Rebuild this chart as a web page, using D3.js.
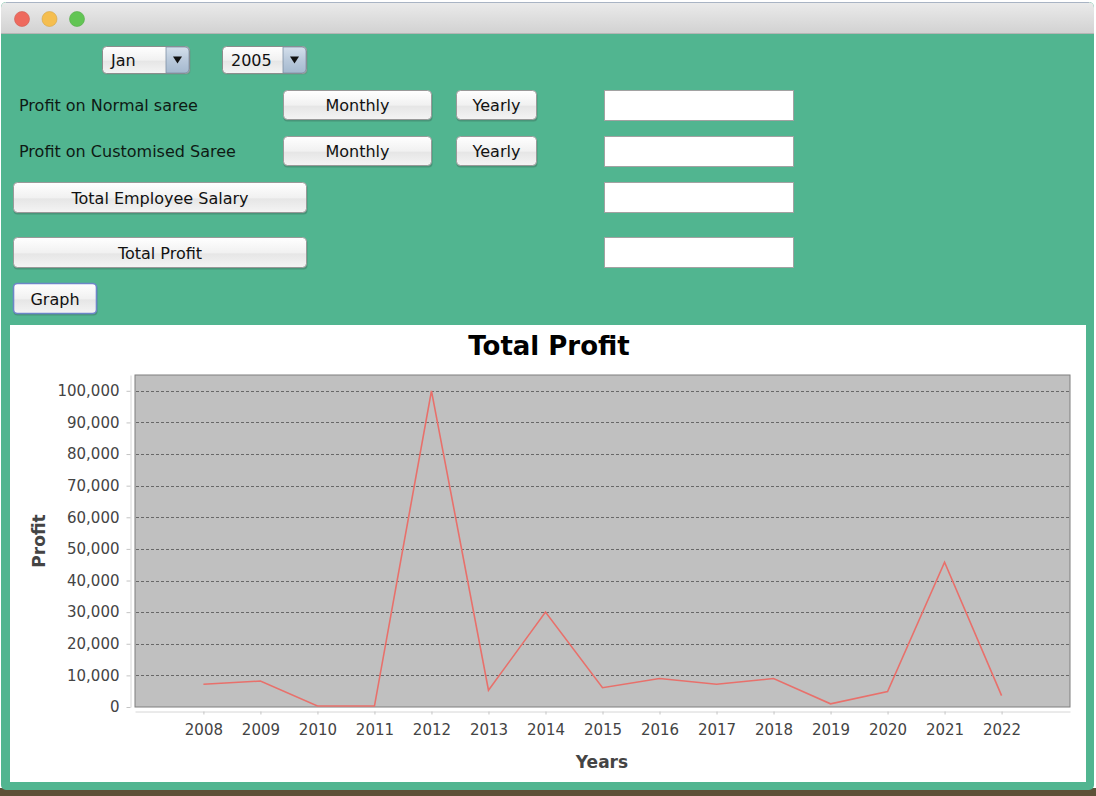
<!DOCTYPE html>
<html>
<head>
<meta charset="utf-8">
<script src="https://cdn.jsdelivr.net/npm/d3@7"></script>
<style>
  html, body { margin: 0; padding: 0; background: #ffffff; }
  svg { display: block; font-family: "Lucida Grande", "DejaVu Sans", sans-serif; }
</style>
</head>
<body>
<svg id="win" width="1096" height="796"></svg>
<script>
// chart data
const years = [2008, 2009, 2010, 2011, 2012, 2013, 2014, 2015, 2016, 2017, 2018, 2019, 2020, 2021, 2022];
const profit = [7200, 8200, 300, 300, 100000, 5300, 30000, 6100, 9000, 7200, 9000, 1000, 4900, 45800, 3600];
const profitTicks = [0, 10000, 20000, 30000, 40000, 50000, 60000, 70000, 80000, 90000, 100000];

// form widgets
const combos = [
  {text: "Jan", x: 102, w: 88},
  {text: "2005", x: 222, w: 85}
];
const labels = [
  {text: "Profit on Normal saree", y: 105},
  {text: "Profit on Customised Saree", y: 151}
];
const buttons = [
  {text: "Monthly", x: 283, y: 90, w: 149, h: 30},
  {text: "Yearly", x: 456, y: 90, w: 81, h: 30},
  {text: "Monthly", x: 283, y: 136, w: 149, h: 30},
  {text: "Yearly", x: 456, y: 136, w: 81, h: 30},
  {text: "Total Employee Salary", x: 13, y: 182, w: 294, h: 31},
  {text: "Total Profit", x: 13, y: 237, w: 294, h: 31},
  {text: "Graph", x: 13, y: 283, w: 84, h: 31, focus: true}
];
const fieldRows = [90, 136, 182, 237];

const svg = d3.select("#win");
const defs = svg.append("defs");

function grad(id, stops) {
  const g = defs.append("linearGradient").attr("id", id)
    .attr("x1", 0).attr("y1", 0).attr("x2", 0).attr("y2", 1);
  stops.forEach(s => g.append("stop").attr("offset", s[0]).attr("stop-color", s[1]));
}
grad("titlebar", [[0, "#ebebeb"], [1, "#d2d2d2"]]);
grad("btn", [[0, "#ffffff"], [0.5, "#f1f1f1"], [0.55, "#e6e6e6"], [1, "#f4f4f4"]]);
grad("arrow", [[0, "#d5e0ec"], [0.5, "#b9c9db"], [1, "#a5b9cf"]]);

// window
svg.append("rect").attr("x", 0).attr("y", 788).attr("width", 1096).attr("height", 8).attr("fill", "#5e5138");
svg.append("rect").attr("x", 1).attr("y", 2).attr("width", 1093).attr("height", 788).attr("rx", 5)
  .attr("fill", "#51b590");
svg.append("path")
  .attr("d", "M1,33 V8 Q1,2 7,2 H1088 Q1094,2 1094,8 V33 Z")
  .attr("fill", "url(#titlebar)");
svg.append("line").attr("x1", 1).attr("x2", 1094).attr("y1", 33.5).attr("y2", 33.5).attr("stroke", "#b5b5b5");
svg.append("line").attr("x1", 6).attr("x2", 1089).attr("y1", 2.5).attr("y2", 2.5).attr("stroke", "#a9b4c4");

svg.selectAll("circle.light").data(["#ee6a5e", "#f5be4f", "#62c554"]).join("circle")
  .attr("class", "light")
  .attr("cx", (d, i) => 22 + i * 27.5).attr("cy", 19).attr("r", 7.5)
  .attr("fill", d => d).attr("stroke", d => d3.color(d).darker(0.4)).attr("stroke-width", 0.6);

// combo boxes
const cb = svg.selectAll("g.combo").data(combos).join("g").attr("class", "combo")
  .attr("transform", d => `translate(${d.x},46)`);
cb.append("rect").attr("x", 0.5).attr("y", 1.5).attr("width", d => d.w).attr("height", 27).attr("rx", 4).attr("fill", "#6b8a7c").attr("opacity", 0.5);
cb.append("rect").attr("x", 0.5).attr("y", 0.5).attr("width", d => d.w - 1).attr("height", 27).attr("rx", 4)
  .attr("fill", "url(#btn)").attr("stroke", "#8d8d8d");
cb.append("path")
  .attr("d", d => `M${d.w - 24},1 H${d.w - 5} Q${d.w - 1},1 ${d.w - 1},5 V23 Q${d.w - 1},27 ${d.w - 5},27 H${d.w - 24} Z`)
  .attr("fill", "url(#arrow)").attr("stroke", "#7f8fa3").attr("stroke-width", 0.8);
cb.append("path")
  .attr("d", d => `M${d.w - 17},10.5 H${d.w - 8} L${d.w - 12.5},17.5 Z`).attr("fill", "#111");
cb.append("text").attr("x", 9).attr("y", 20).attr("font-size", 16).attr("fill", "#111").text(d => d.text);

// labels
svg.selectAll("text.lbl").data(labels).join("text").attr("class", "lbl")
  .attr("x", 19).attr("y", d => d.y + 6).attr("font-size", 16).attr("fill", "#0e1a14").text(d => d.text);

// buttons
const bt = svg.selectAll("g.btn").data(buttons).join("g").attr("class", "btn")
  .attr("transform", d => `translate(${d.x},${d.y})`);
bt.append("rect").attr("x", 0.5).attr("y", 1.5).attr("width", d => d.w).attr("height", d => d.h).attr("rx", 4)
  .attr("fill", "#3f6f5d").attr("opacity", 0.45);
bt.append("rect").attr("x", 0.5).attr("y", 0.5).attr("width", d => d.w - 1).attr("height", d => d.h - 1).attr("rx", 4)
  .attr("fill", "url(#btn)")
  .attr("stroke", d => d.focus ? "#6d86c8" : "#999")
  .attr("stroke-width", d => d.focus ? 1.6 : 1);
bt.append("text").attr("x", d => d.w / 2).attr("y", d => d.h / 2 + 6).attr("text-anchor", "middle")
  .attr("font-size", 16).attr("fill", "#111").text(d => d.text);

// text fields
svg.selectAll("rect.field").data(fieldRows).join("rect").attr("class", "field")
  .attr("x", 604.5).attr("y", d => d + 0.5).attr("width", 189).attr("height", 30)
  .attr("fill", "#fff").attr("stroke", "#a2a2a2");

// chart panel
svg.append("rect").attr("x", 10).attr("y", 325).attr("width", 1076).attr("height", 457).attr("fill", "#fff");

const x = d3.scalePoint().domain(years).range([135, 1070]).padding(1.2);
const y = d3.scaleLinear().domain([0, 105000]).range([707, 375]);

svg.append("text").attr("x", 549).attr("y", 355).attr("text-anchor", "middle")
  .attr("font-size", 26).attr("font-weight", "bold").attr("fill", "#000").text("Total Profit");

svg.append("rect").attr("x", 135).attr("y", 375).attr("width", 935).attr("height", 332)
  .attr("fill", "#c0c0c0").attr("stroke", "#7f7f7f");

svg.append("g").selectAll("line").data(profitTicks.filter(d => d > 0)).join("line")
  .attr("x1", 136).attr("x2", 1069)
  .attr("y1", d => Math.round(y(d)) + 0.5).attr("y2", d => Math.round(y(d)) + 0.5)
  .attr("stroke", "#686868").attr("stroke-width", 1).attr("stroke-dasharray", "3,2");

const yAxis = svg.append("g").attr("transform", "translate(130.5,0)")
  .call(d3.axisLeft(y).tickValues(profitTicks).tickFormat(d3.format(",")).tickSize(4).tickSizeOuter(0).tickPadding(7));
const xAxis = svg.append("g").attr("transform", "translate(0,711.5)")
  .call(d3.axisBottom(x).tickSize(3).tickSizeOuter(0).tickPadding(10));
[yAxis, xAxis].forEach(a => {
  a.select(".domain").attr("stroke", "#d6d6d6");
  a.selectAll(".tick line").attr("stroke", "#c4c4c4");
  a.selectAll(".tick text").attr("fill", "#444").attr("font-size", 15)
    .attr("font-family", "\"Lucida Grande\", \"DejaVu Sans\", sans-serif");
});

svg.append("path").datum(years.map((yr, i) => [yr, profit[i]]))
  .attr("fill", "none").attr("stroke", "#e8706b").attr("stroke-width", 1.6)
  .attr("d", d3.line().x(d => x(d[0])).y(d => y(d[1])));

svg.append("text").attr("x", 602).attr("y", 768).attr("text-anchor", "middle")
  .attr("font-size", 17).attr("font-weight", "bold").attr("fill", "#444").text("Years");
svg.append("text").attr("transform", "translate(45,541) rotate(-90)").attr("text-anchor", "middle")
  .attr("font-size", 17).attr("font-weight", "bold").attr("fill", "#444").text("Profit");
</script>
</body>
</html>
